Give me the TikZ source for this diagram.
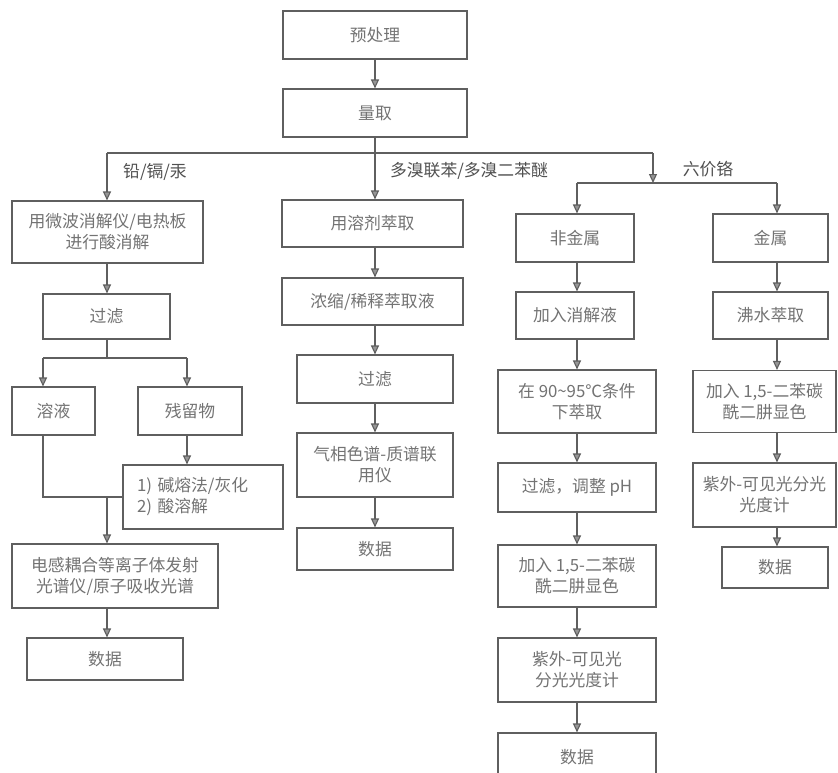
\documentclass[tikz,border=0pt]{standalone}
\usepackage{fontspec}
\setmainfont{Noto Sans CJK SC}
\usetikzlibrary{arrows.meta}
\definecolor{linec}{RGB}{95,95,95}
\definecolor{textc}{RGB}{115,115,115}
\definecolor{labc}{RGB}{80,80,80}
\definecolor{tipc}{RGB}{150,150,150}
\begin{document}
\begin{tikzpicture}[x=1pt,y=-1pt,
  box/.style={draw=linec,line width=1.1pt,inner sep=0pt,align=center,text=textc,
    font=\fontsize{16.8}{21}\selectfont},
  wire/.style={draw=linec,line width=1.1pt},
  arr/.style={draw=linec,line width=1.1pt,-{Triangle[width=8pt,length=9pt,fill=tipc]}},
  lab/.style={text=labc,inner sep=0pt,font=\fontsize{16.8}{21}\selectfont}]
\useasboundingbox[fill=white] (0,0) rectangle (838,772);
% column coordinates
\coordinate (cL) at (107,0);
\coordinate (cM) at (375,0);
\coordinate (cN) at (577,0);
\coordinate (cK) at (777,0);
% top
\node[box,minimum width=184pt,minimum height=48pt] (pre) at (375,35) {预处理};
\node[box,minimum width=184pt,minimum height=48pt] (qu) at (375,113) {量取};
% left column
\node[box,minimum width=191pt,minimum height=62pt] (a1) at (107.5,232) {用微波消解仪/电热板\\进行酸消解};
\node[box,minimum width=127pt,minimum height=45pt] (a2) at (106.5,316.5) {过滤};
\node[box,minimum width=83pt,minimum height=48pt] (a3) at (53.5,411) {溶液};
\node[box,minimum width=104pt,minimum height=48pt] (a4) at (190,411) {残留物};
\node[box,text width=132pt,inner xsep=14pt,minimum height=64pt,align=left] (a5) at (203,497) {1) 碱熔法/灰化\\2) 酸溶解};
\node[box,minimum width=206pt,minimum height=64pt] (a6) at (115,576) {电感耦合等离子体发射\\光谱仪/原子吸收光谱};
\node[box,minimum width=156pt,minimum height=42pt] (a7) at (105,659) {数据};
% middle column
\node[box,minimum width=181pt,minimum height=47pt] (b1) at (372.5,223.5) {用溶剂萃取};
\node[box,minimum width=181pt,minimum height=47pt] (b2) at (372.5,301.5) {浓缩/稀释萃取液};
\node[box,minimum width=156pt,minimum height=48pt] (b3) at (375,379) {过滤};
\node[box,minimum width=156pt,minimum height=64pt] (b4) at (375,465) {气相色谱-质谱联\\用仪};
\node[box,minimum width=156pt,minimum height=42pt] (b5) at (375,549) {数据};
% non-metal column
\node[box,minimum width=118pt,minimum height=48pt] (c1) at (575,238) {非金属};
\node[box,minimum width=118pt,minimum height=47pt] (c2) at (575,315.5) {加入消解液};
\node[box,minimum width=158pt,minimum height=63pt] (c3) at (577,401.5) {在 90\textasciitilde 95℃条件\\下萃取};
\node[box,minimum width=158pt,minimum height=49pt] (c4) at (577,487.5) {过滤，调整 pH};
\node[box,minimum width=158pt,minimum height=62pt] (c5) at (577,576) {加入 1,5-二苯碳\\酰二肼显色};
\node[box,minimum width=158pt,minimum height=64pt] (c6) at (577,670) {紫外-可见光\\分光光度计};
\node[box,minimum width=158pt,minimum height=48pt] (c7) at (577,757) {数据};
% metal column
\node[box,minimum width=115pt,minimum height=48pt] (d1) at (770.5,238) {金属};
\node[box,minimum width=115pt,minimum height=47pt] (d2) at (770.5,315.5) {沸水萃取};
\node[box,minimum width=143pt,minimum height=62pt] (d3) at (764.5,401.5) {加入 1,5-二苯碳\\酰二肼显色};
\node[box,minimum width=143pt,minimum height=64pt] (d4) at (764.5,495) {紫外-可见光分光\\光度计};
\node[box,minimum width=106pt,minimum height=41pt] (d5) at (775,567.5) {数据};
% branch labels
\node[lab] (l1) at (155,172) {铅/镉/汞};
\node[lab] (l2) at (469,171) {多溴联苯/多溴二苯醚};
\node[lab] (l3) at (708,169) {六价铬};
% top connectors
\coordinate (jT) at (375,153);
\coordinate (jL) at (107,153);
\coordinate (jR) at (653,153);
\coordinate (bL) at (577,183);
\coordinate (bR) at (777,183);
\draw[arr] (pre.south) -- (qu.north);
\draw[wire] (qu.south) -- (jT);
\draw[wire] (jL) -- (jR);
\draw[arr] (jL) -- (a1.north -| jL);
\draw[arr] (jT) -- (b1.north -| jT);
\draw[arr] (jR) -- (jR |- bL);
\draw[wire] (bL) -- (bR);
\draw[arr] (bL) -- (c1.north -| bL);
\draw[arr] (bR) -- (d1.north -| bR);
% left connectors
\coordinate (fj) at (107,358);
\coordinate (fL) at (43,358);
\coordinate (fR) at (187,358);
\coordinate (mL) at (43,497);
\draw[arr] (a1.south -| cL) -- (a2.north -| cL);
\draw[wire] (a2.south -| cL) -- (fj);
\draw[wire] (fL) -- (fR);
\draw[arr] (fL) -- (a3.north -| fL);
\draw[arr] (fR) -- (a4.north -| fR);
\draw[arr] (a4.south -| fR) -- (a5.north -| fR);
\draw[wire] (a3.south -| fL) -- (mL) -- (a5.west);
\draw[arr] (mL -| cL) -- (a6.north -| cL);
\draw[arr] (a6.south -| cL) -- (a7.north -| cL);
% middle connectors
\draw[arr] (b1.south -| cM) -- (b2.north -| cM);
\draw[arr] (b2.south -| cM) -- (b3.north -| cM);
\draw[arr] (b3.south -| cM) -- (b4.north -| cM);
\draw[arr] (b4.south -| cM) -- (b5.north -| cM);
% non-metal connectors
\draw[arr] (c1.south -| cN) -- (c2.north -| cN);
\draw[arr] (c2.south -| cN) -- (c3.north -| cN);
\draw[arr] (c3.south -| cN) -- (c4.north -| cN);
\draw[arr] (c4.south -| cN) -- (c5.north -| cN);
\draw[arr] (c5.south -| cN) -- (c6.north -| cN);
\draw[arr] (c6.south -| cN) -- (c7.north -| cN);
% metal connectors
\draw[arr] (d1.south -| cK) -- (d2.north -| cK);
\draw[arr] (d2.south -| cK) -- (d3.north -| cK);
\draw[arr] (d3.south -| cK) -- (d4.north -| cK);
\draw[arr] (d4.south -| cK) -- (d5.north -| cK);
\end{tikzpicture}
\end{document}
